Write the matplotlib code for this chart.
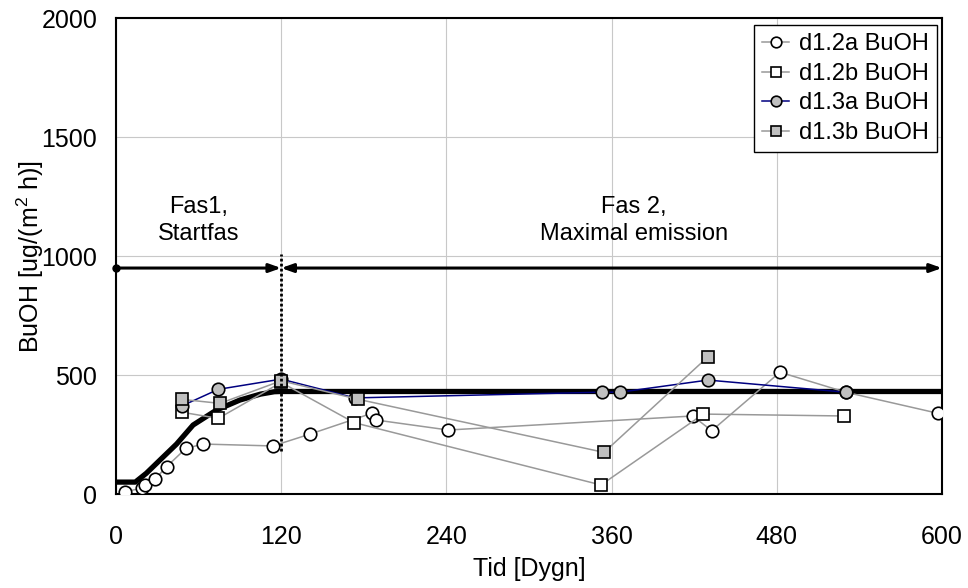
import matplotlib
matplotlib.use("Agg")
import matplotlib.pyplot as plt

plt.rcParams['font.family'] = ['Liberation Sans', 'DejaVu Sans']
plt.rcParams['mathtext.fontset'] = 'custom'
plt.rcParams['mathtext.rm'] = 'Liberation Sans'
plt.rcParams['mathtext.it'] = 'Liberation Sans'
plt.rcParams['mathtext.bf'] = 'Liberation Sans:bold'

# ---- data ----
d12a_x = [6.5, 18.7, 21, 28.3, 36.8, 50.8, 63.4, 114, 141, 185.7, 189, 241.4, 419, 432.7, 482.3, 530, 597.3]
d12a_y = [10, 24, 38, 62, 115, 192, 210, 202, 252, 339, 311, 269, 328, 266, 512, 428, 339]

d12b_x = [47.7, 74.3, 120, 173, 352.3, 426.6, 529]
d12b_y = [344, 318, 469, 300, 38, 336, 328]

d13a_x = [47.7, 74.3, 120, 173.6, 352.8, 366, 430, 530]
d13a_y = [370, 440, 483, 404, 428, 428, 479, 428]

d13b_x = [47.7, 75.5, 120, 176, 354.5, 430]
d13b_y = [398, 381, 476, 398, 175, 577]

model_x = [0, 14, 22, 32, 44, 56, 73, 90, 105, 115, 120, 600]
model_y = [50, 50, 87, 143, 210, 290, 353, 395, 420, 430, 431, 431]

labels = ['d1.2a BuOH', 'd1.2b BuOH', 'd1.3a BuOH', 'd1.3b BuOH']
xticks = [0, 120, 240, 360, 480, 600]
yticks = [0, 500, 1000, 1500, 2000]
phase_boundary = 120
arrow_level = 950
phase1_text = 'Fas1,\nStartfas'
phase2_text = 'Fas 2,\nMaximal emission'

# ---- figure ----
W, H = 968, 588
fig = plt.figure(figsize=(W / 100, H / 100), dpi=100)
ax = fig.add_axes([116 / W, 1 - 494 / H, 826 / W, 475.7 / H])

ax.set_xlim(0, 600)
ax.set_ylim(0, 2000)
ax.set_xticks(xticks)
ax.set_yticks(yticks)
ax.grid(True, color='#c8c8c8', linewidth=0.8, zorder=0)
ax.set_axisbelow(True)
ax.tick_params(axis='both', length=0, labelsize=18)
ax.tick_params(axis='x', pad=22)
ax.tick_params(axis='y', pad=13.5)
for s in ax.spines.values():
    s.set_linewidth(1.5)
    s.set_color('black')

gray = '#999999'
fillgray = '#c0c0c0'

# model curve (thick black)
ax.plot(model_x, model_y, color='black', linewidth=3.8, zorder=2.5,
        solid_capstyle='butt')

ax.plot(d12a_x, d12a_y, color=gray, linewidth=1.1, marker='o', markersize=9,
        markerfacecolor='white', markeredgecolor='black', markeredgewidth=1.2,
        label=labels[0], zorder=3)
ax.plot(d12b_x, d12b_y, color=gray, linewidth=1.1, marker='s', markersize=8,
        markerfacecolor='white', markeredgecolor='black', markeredgewidth=1.2,
        label=labels[1], zorder=3)
ax.plot(d13a_x, d13a_y, color='#000080', linewidth=1.1, marker='o', markersize=9,
        markerfacecolor=fillgray, markeredgecolor='black', markeredgewidth=1.2,
        label=labels[2], zorder=3)
ax.plot(d13b_x, d13b_y, color=gray, linewidth=1.1, marker='s', markersize=8,
        markerfacecolor=fillgray, markeredgecolor='black', markeredgewidth=1.2,
        label=labels[3], zorder=3)

# phase boundary (dotted vertical)
ax.plot([phase_boundary, phase_boundary], [180, 1010], color='black',
        linewidth=2.0, linestyle=(0, (1, 0.8)), zorder=4)

# phase arrows
ax.annotate('', xy=(phase_boundary, arrow_level), xytext=(0, arrow_level),
            arrowprops=dict(arrowstyle='-|>,head_length=0.7,head_width=0.25',
                            color='black', lw=2.2, shrinkA=0, shrinkB=0),
            annotation_clip=False, zorder=4)
ax.annotate('', xy=(600, arrow_level), xytext=(phase_boundary, arrow_level),
            arrowprops=dict(arrowstyle='<|-|>,head_length=0.7,head_width=0.25',
                            color='black', lw=2.2, shrinkA=0, shrinkB=0),
            annotation_clip=False, zorder=4)
ax.plot([0], [arrow_level], marker='o', color='black', markersize=5,
        clip_on=False, zorder=5)

ax.text(60, 1150, phase1_text, ha='center', va='center', fontsize=17,
        linespacing=1.3)
ax.text(376, 1150, phase2_text, ha='center', va='center', fontsize=17,
        linespacing=1.3)

ax.set_xlabel('Tid [Dygn]', fontsize=18)
ax.set_ylabel('BuOH [ug/(m$^2$ h)]', fontsize=18)
ax.xaxis.set_label_coords(0.5, -0.132)
ax.yaxis.set_label_coords(-0.085, 0.5)

leg = ax.legend(loc='upper right', bbox_to_anchor=(0.994, 0.986),
                borderaxespad=0, fontsize=17, frameon=True, fancybox=False,
                edgecolor='black', framealpha=1, borderpad=0.35,
                labelspacing=0.32, handlelength=1.15, handletextpad=0.4,
                markerscale=0.85)
leg.get_frame().set_linewidth(1.0)

fig.savefig('out.png', dpi=100)
